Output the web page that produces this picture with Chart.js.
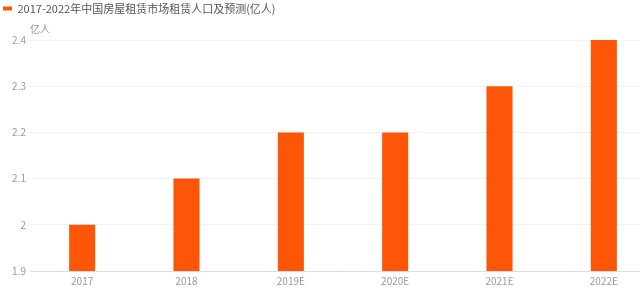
<!DOCTYPE html>
<html>
<head>
<meta charset="utf-8">
<script src="https://cdn.jsdelivr.net/npm/chart.js@4/dist/chart.umd.min.js"></script>
<style>
  html, body { margin: 0; padding: 0; background: #fff; overflow: hidden; }
  #wrap { position: relative; width: 656px; height: 290px; }
</style>
</head>
<body>
<div id="wrap"><canvas id="c"></canvas></div>
<script>
  // datos
  const categorias = ['2017', '2018', '2019E', '2020E', '2021E', '2022E'];
  const poblacion  = [2.0, 2.1, 2.2, 2.2, 2.3, 2.4];
  const titulo     = '2017-2022年中国房屋租赁市场租赁人口及预测(亿人)';
  const unidad     = '亿人';

  const FONT = "'Noto Sans CJK SC', 'Noto Sans', sans-serif";
  const NARANJA = '#fd5608';

  // Leyenda: espacio extra debajo
  const legendGap = {
    id: 'legendGap',
    beforeInit(chart){
      const fit = chart.legend.fit;
      chart.legend.fit = function(){ fit.bind(chart.legend)(); this.height += 16; };
    }
  };

  // Título del eje Y arriba (sin rotar)
  const yUnit = {
    id: 'yUnit',
    afterDraw(chart){
      const y = chart.scales.y, ctx = chart.ctx;
      ctx.save();
      ctx.font = '10px ' + FONT;
      ctx.fillStyle = '#999';
      ctx.textAlign = 'left';
      ctx.textBaseline = 'middle';
      ctx.fillText(unidad, 30, y.top - 11);
      ctx.restore();
    }
  };

  new Chart(document.getElementById('c'), {
    type: 'bar',
    data: {
      labels: categorias,
      datasets: [{
        label: titulo,
        data: poblacion,
        backgroundColor: NARANJA,
        borderWidth: 0,
        barPercentage: 0.25,
        categoryPercentage: 1
      }]
    },
    options: {
      responsive: true,
      maintainAspectRatio: false,
      animation: false,
      layout: { padding: { left: 0, right: 0, top: 0, bottom: 0 } },
      plugins: {
        legend: {
          display: true,
          align: 'start',
          labels: {
            boxWidth: 9, boxHeight: 4, padding: 3,
            color: '#555',
            font: { family: FONT, size: 11 }
          }
        },
        tooltip: { enabled: false }
      },
      scales: {
        x: {
          grid: { display: false, drawTicks: false },
          border: { color: '#ddd' },
          ticks: { color: '#999', font: { family: FONT, size: 10 }, padding: 4 },
          afterFit: s => { s.height = 19; }
        },
        y: {
          min: 1.9, max: 2.4,
          ticks: {
            stepSize: 0.1, color: '#999', font: { family: FONT, size: 10 }, padding: 4,
            callback: v => String(Math.round(v * 10) / 10)
          },
          grid: { color: '#f2f2f2', drawTicks: false },
          border: { display: false },
          afterFit: s => { s.width = 30; }
        }
      }
    },
    plugins: [legendGap, yUnit]
  });
</script>
</body>
</html>
